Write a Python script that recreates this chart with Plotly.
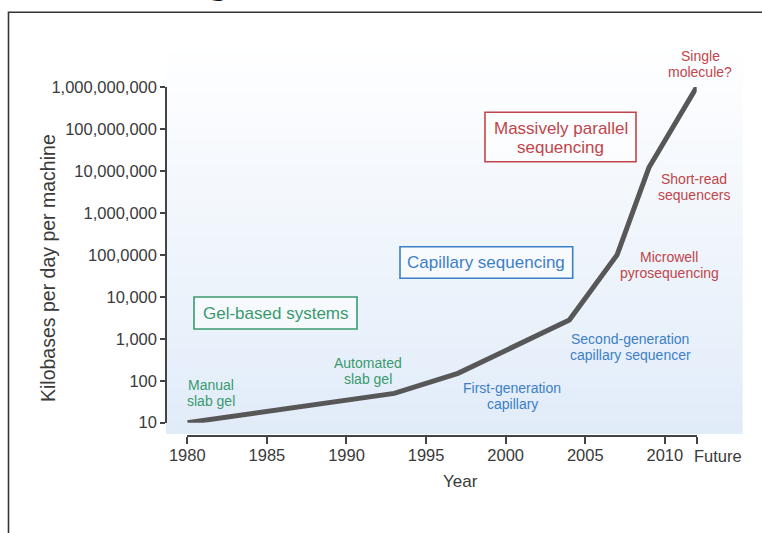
import plotly.graph_objects as go

# ---- data ----
years = [1980, 1985, 1993, 1997, 2004, 2007, 2009, 2012]
kilobases = [10, 19, 50, 150, 2800, 100000, 12000000, 1000000000]

x_tickvals = [1980, 1985, 1990, 1995, 2000, 2005, 2010, 2012]
x_ticktext = ["1980", "1985", "1990", "1995", "2000", "2005", "2010", ""]
future_label = "Future"
y_tickvals = [10, 100, 1000, 10000, 100000, 1000000, 10000000, 100000000, 1000000000]
y_ticktext = ["10", "100", "1,000", "10,000", "100,0000", "1,000,000",
              "10,000,000", "100,000,000", "1,000,000,000"]

W, H = 762, 533
FONT = "Liberation Sans, Arial, Helvetica, sans-serif"
GREEN = "#3a9a6e"
BLUE = "#3d7fc6"
RED = "#c1454a"
AXIS = "#3a3a3a"


def px(x):
    return x / W


def py(y):
    return 1 - y / H


fig = go.Figure()
fig.add_trace(go.Scatter(x=years, y=kilobases, mode="lines",
                         line=dict(color="#575757", width=5),
                         hoverinfo="skip", showlegend=False))

shapes = []
# gradient background (white at top -> light blue at bottom)
n = 60
top, bottom = 40, 434
c0 = (255, 255, 255)
c1 = (225, 236, 249)
for i in range(n):
    t = (i + 0.5) / n
    col = tuple(round(c0[k] + (c1[k] - c0[k]) * t) for k in range(3))
    y0 = top + (bottom - top) * i / n
    y1 = top + (bottom - top) * (i + 1) / n + 0.6
    shapes.append(dict(type="rect", xref="paper", yref="paper",
                       x0=px(166), x1=px(742.7), y0=py(y0), y1=py(min(y1, bottom)),
                       fillcolor="rgb(%d,%d,%d)" % col, line=dict(width=0),
                       layer="below"))

# frame
shapes.append(dict(type="rect", xref="paper", yref="paper",
                   x0=px(8.5), x1=px(W + 20), y0=py(12.3), y1=py(H + 20),
                   line=dict(color="#333333", width=1.6), fillcolor="rgba(0,0,0,0)"))


# category boxes
def box(x0, x1, y0, y1, color):
    shapes.append(dict(type="rect", xref="paper", yref="paper",
                       x0=px(x0), x1=px(x1), y0=py(y0), y1=py(y1),
                       line=dict(color=color, width=1.6), fillcolor="rgba(255,255,255,0.55)"))


box(194, 357, 297, 329, GREEN)
box(400, 572.7, 246.7, 278.3, BLUE)
box(485, 636, 112.3, 161.7, RED)

annotations = []


def label(text, x, y, color, size=14, **kw):
    annotations.append(dict(text=text, x=px(x), y=py(y), xref="paper", yref="paper",
                            showarrow=False, xanchor="center", yanchor="middle",
                            font=dict(family=FONT, size=size, color=color), **kw))


# small labels (each line separately for tight spacing)
def label2(l1, l2, x, yc, color, size=14, gap=16):
    label(l1, x, yc - gap / 2, color, size)
    label(l2, x, yc + gap / 2, color, size)


label2("Manual", "slab gel", 211, 393, GREEN)
label2("Automated", "slab gel", 368, 371, GREEN)
label2("First-generation", "capillary", 512, 396, BLUE)
label2("Second-generation", "capillary sequencer", 630, 347, BLUE)
label2("Microwell", "pyrosequencing", 669, 265, RED)
label2("Short-read", "sequencers", 694, 187, RED)
label2("Single", "molecule?", 700, 64, RED)

label("Gel-based systems", 275.5, 313, GREEN, size=17)
label("Capillary sequencing", 486, 262.5, BLUE, size=17)
label2("Massively parallel", "sequencing", 560.5, 138, RED, size=17, gap=18)

# axis titles and the offset "Future" tick label
label("Kilobases per day per machine", 48, 268, AXIS, size=19.5, textangle=-90)
label("Year", 460, 481, AXIS, size=17)
label(future_label, 717.5, 455.5, AXIS, size=16.5)

# cropped title fragment at top
annotations.append(dict(text="<b>g</b>", x=px(218), y=py(3), xref="paper", yref="paper",
                        showarrow=False, xanchor="center", yanchor="bottom",
                        font=dict(family=FONT, size=40, color="#111111")))

fig.update_layout(
    width=W, height=H,
    margin=dict(l=0, r=0, t=0, b=0, autoexpand=False),
    paper_bgcolor="white", plot_bgcolor="rgba(0,0,0,0)",
    shapes=shapes, annotations=annotations,
    xaxis=dict(domain=[px(187.3), px(696.7)], range=[1980, 2012],
               anchor="free", position=py(436), automargin=False,
               tickvals=x_tickvals, ticktext=x_ticktext, tickangle=0,
               ticklabelstandoff=-3,
               showline=True, linecolor="#444444", linewidth=1.5,
               ticks="outside", ticklen=7, tickwidth=1.5, tickcolor="#444444",
               showgrid=False, zeroline=False,
               tickfont=dict(family=FONT, size=16.5, color=AXIS)),
    yaxis=dict(domain=[py(422.7), py(87)], type="log", range=[1, 9],
               anchor="free", position=px(166), automargin=False,
               tickvals=y_tickvals, ticktext=y_ticktext,
               showline=True, linecolor="#444444", linewidth=1.5,
               ticks="outside", ticklen=5, tickwidth=1.5, tickcolor="#444444",
               showgrid=False, zeroline=False,
               tickfont=dict(family=FONT, size=16.5, color=AXIS)),
)

fig.write_html("out.html", config={"displayModeBar": False},
               post_script="document.body.style.margin='0px';")
